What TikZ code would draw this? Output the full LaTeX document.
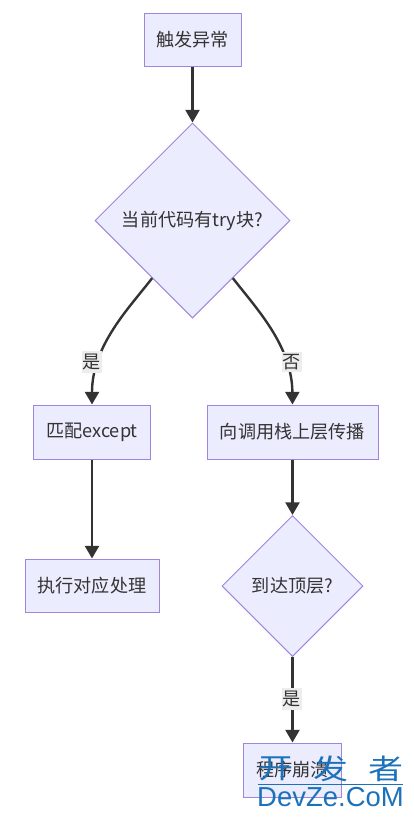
\documentclass[tikz,border=0pt]{standalone}
\usepackage{fontspec}
\setmainfont{Noto Sans CJK SC}
\newfontfamily\markfont{Liberation Sans}
\usetikzlibrary{shapes.geometric,arrows.meta}
\definecolor{flowfill}{HTML}{ECECFF}
\definecolor{flowedge}{HTML}{9F86DC}
\definecolor{flowink}{HTML}{333333}
\definecolor{marktext}{HTML}{1B72BA}
\tikzset{
  flowtext/.style={font=\fontsize{13.6}{16}\selectfont,text=flowink},
  flowbox/.style={flowtext,draw=flowedge,fill=flowfill,line width=.75pt,inner sep=0pt},
  flowcond/.style={flowbox,diamond,aspect=1},
  flowarrow/.style={draw=flowink,line width=1.8pt,-{Triangle[length=9.5pt,width=10.5pt]}},
  flowlabel/.style={flowtext,fill=black!7,inner xsep=1pt,inner ysep=2pt},
  markglyph/.style={font=\fontsize{21}{26}\selectfont,text=marktext,inner sep=0pt,xscale=1.25,transform shape},
}
\begin{document}
\begin{tikzpicture}[x=.75pt,y=-.75pt]
\useasboundingbox (0,0) rectangle (414,819);
\node[flowbox,minimum width=72.75pt,minimum height=39.75pt] (start) at (192.5,39.5) {触发异常};
\node[flowcond,minimum width=146.25pt,minimum height=146.25pt] (cond) at (192.5,220.5) {当前代码有try块?};
\node[flowbox,minimum width=87.75pt,minimum height=40.5pt] (match) at (92,432) {匹配except};
\node[flowbox,minimum width=100.5pt,minimum height=39.75pt] (run) at (92,585.5) {执行对应处理};
\node[flowbox,minimum width=128.25pt,minimum height=40.5pt] (prop) at (292.5,432) {向调用栈上层传播};
\node[flowcond,minimum width=105.75pt,minimum height=105.75pt] (top) at (292.5,586) {到达顶层?};
\node[flowbox,minimum width=73.5pt,minimum height=40.5pt] (crash) at (292.5,770) {程序崩溃};
\draw[flowarrow] (start) -- (cond);
\draw[flowarrow] (cond.235) .. controls (130,307) and (92,345) .. (match.north);
\draw[flowarrow] (cond.305.7) .. controls (255,307) and (292,345) .. (prop.north);
\draw[flowarrow] (match) -- (run);
\draw[flowarrow] (prop) -- (top);
\draw[flowarrow] (top) -- (crash);
\node[flowlabel] (yesa) at (92,362) {是};
\node[flowlabel] (noa) at (292,362) {否};
\node[flowlabel] (yesb) at (292,699) {是};
% site mark over the last box
\node[markglyph] (marka) at (275.5,769) {开};
\node[markglyph] (markb) at (331,769) {发};
\node[markglyph] (markc) at (385.5,769) {者};
\node[font=\markfont\fontsize{20.6}{24}\selectfont,text=marktext,inner sep=0pt] (markd) at (330.5,797) {DevZe.CoM};
\coordinate (markl) at (258,784);
\coordinate (markr) at (403,784);
\draw[marktext,line width=.6pt] (markl) -- (markr);
\end{tikzpicture}
\end{document}
